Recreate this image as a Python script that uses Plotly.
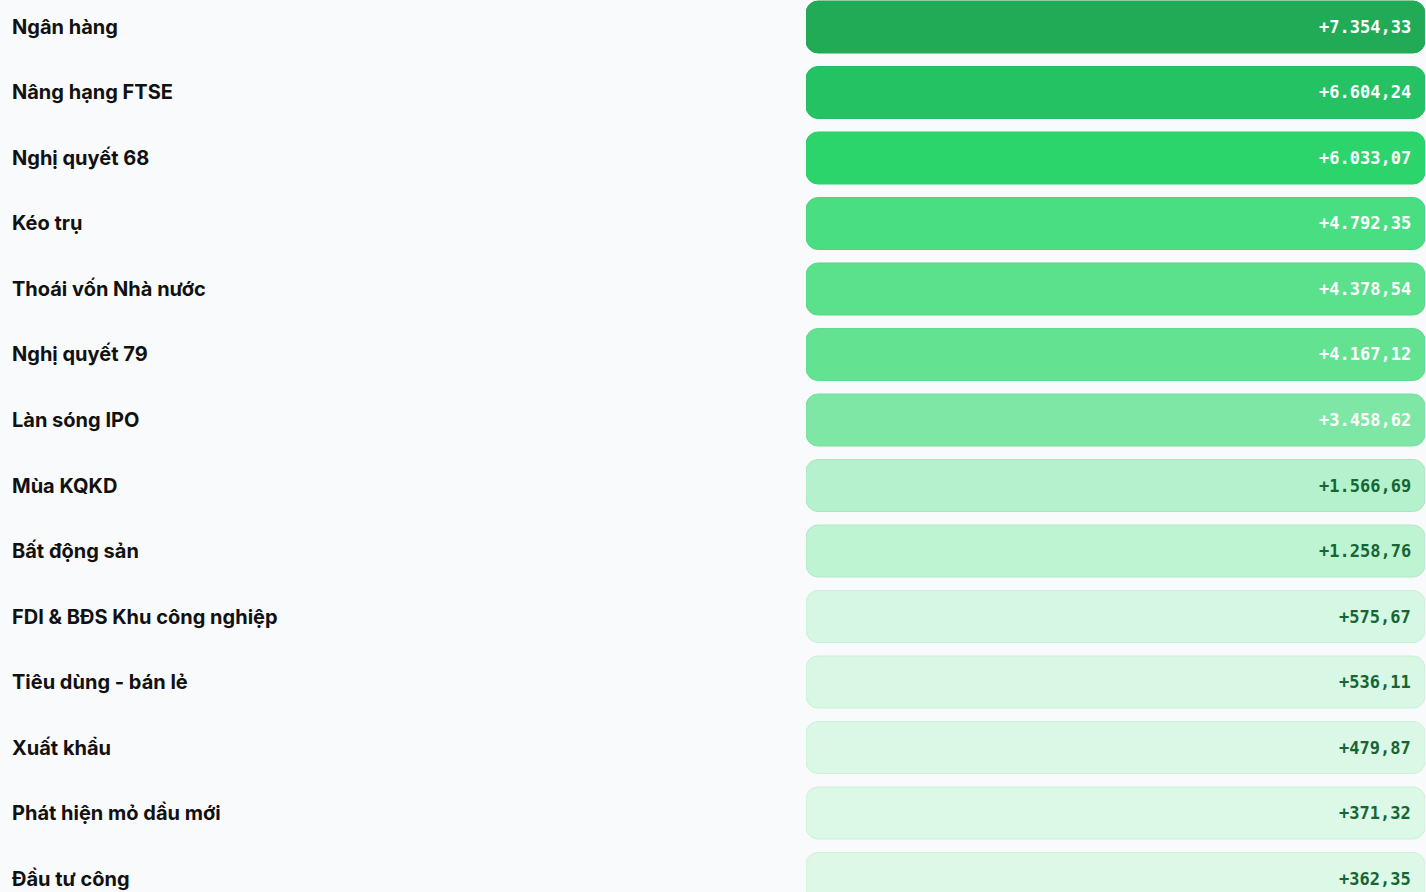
import plotly.graph_objects as go

categories = [
    "Ngân hàng", "Nâng hạng FTSE", "Nghị quyết 68", "Kéo trụ",
    "Thoái vốn Nhà nước", "Nghị quyết 79", "Làn sóng IPO", "Mùa KQKD",
    "Bất động sản", "FDI & BĐS Khu công nghiệp", "Tiêu dùng - bán lẻ",
    "Xuất khẩu", "Phát hiện mỏ dầu mới", "Đầu tư công",
]
values = [7354.33, 6604.24, 6033.07, 4792.35, 4378.54, 4167.12, 3458.62,
          1566.69, 1258.76, 575.67, 536.11, 479.87, 371.32, 362.35]
fill_colors = ["#22AB57", "#24C263", "#2BD56B", "#4ADE82", "#5BE08C", "#63E292",
               "#7EE7A6", "#B5F1CC", "#BFF4D3", "#D6F7E3", "#D8F7E4", "#DAF8E5",
               "#DCF8E7", "#DDF8E7"]
line_colors = ["#26A556", "#27BC61", "#2DCD69", "#4BD57E", "#5AD788", "#61D98D",
               "#7BDDA0", "#A9E6C0", "#B2E9C7", "#C8EFD7", "#CAEFD8", "#CCF0D9",
               "#CEF0DA", "#CFF0DB"]
text_colors = ["#FFFFFF"] * 7 + ["#166534"] * 7


def fmt(v):
    s = f"{v:,.2f}"
    s = s.replace(",", "X").replace(".", ",").replace("X", ".")
    return "+" + s


labels = [fmt(v) for v in values]
rows = list(range(len(categories)))
n = len(rows)

W, H = 1426, 892
BAR_PX_W = 619.0
ROW_PX = 65.5
bar_w = 52 / ROW_PX

fig = go.Figure()
fig.add_trace(go.Bar(
    y=rows, x=[1.0] * n, base=[0.0] * n, orientation="h", width=bar_w,
    marker=dict(color=fill_colors, line=dict(color=line_colors, width=1), cornerradius=12),
    hoverinfo="skip", showlegend=False,
))
for r, t, tc in zip(rows, labels, text_colors):
    fig.add_annotation(
        x=0.9807, xref="x", y=r, yref="y", text=t, showarrow=False,
        xanchor="right", yanchor="middle", yshift=0,
        font=dict(family="DejaVu Sans Mono", size=17, color=tc, weight="bold"),
    )
for r, c in zip(rows, categories):
    fig.add_annotation(
        x=10 / W, xref="paper", y=r, yref="y", text=c, showarrow=False,
        xanchor="left", yanchor="middle", yshift=0,
        font=dict(family="Inter", size=20, color="#111111", weight="bold"),
    )

fig.update_layout(
    width=W, height=H, margin=dict(l=0, r=0, t=0, b=0),
    barmode="overlay",
    paper_bgcolor="#F9FAFB", plot_bgcolor="#F9FAFB",
    xaxis=dict(domain=[806 / W, (806 + BAR_PX_W) / W], range=[0, 1.0], visible=False, fixedrange=True),
    yaxis=dict(range=[13.206, -0.412], visible=False, fixedrange=True),
)
fig.write_html("out.html", config={"displayModeBar": False},
               post_script="document.body.style.margin='0';document.body.style.background='#F9FAFB';")
